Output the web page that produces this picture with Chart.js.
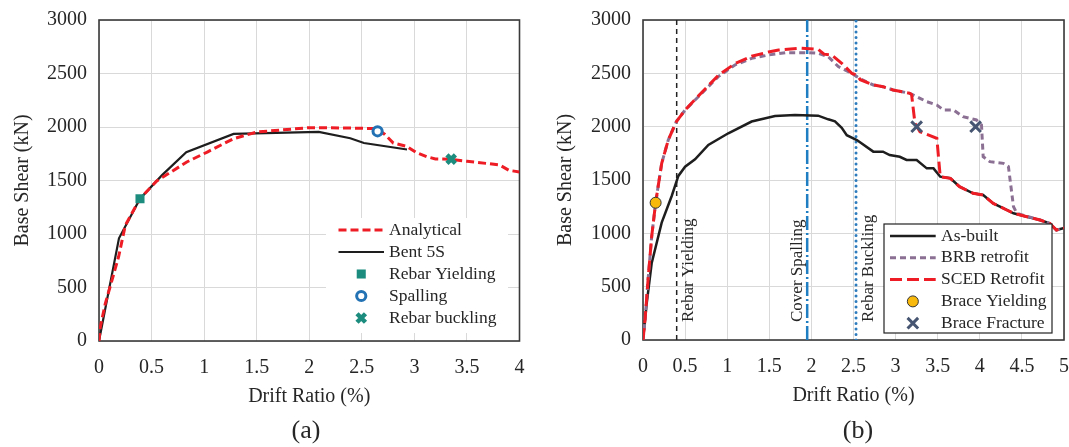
<!DOCTYPE html>
<html>
<head>
<meta charset="utf-8">
<title>Pushover curves</title>
<script src="https://cdn.jsdelivr.net/npm/chart.js@4.4.0/dist/chart.umd.min.js"></script>
<style>
  body { margin: 0; background: #fff; }
  #wrap { position: relative; width: 1069px; height: 447px; overflow: hidden; }
  canvas { position: absolute; top: 0; }
  #chartA { left: 0; }
  #chartB { left: 530px; }
</style>
</head>
<body>
<div id="wrap">
  <canvas id="chartA" width="530" height="447"></canvas>
  <canvas id="chartB" width="539" height="447"></canvas>
</div>
<script>
// Axis ticks
const yTicks = [0, 500, 1000, 1500, 2000, 2500, 3000];
const xTicksA = [0, 0.5, 1, 1.5, 2, 2.5, 3, 3.5, 4];
const xTicksB = [0, 0.5, 1, 1.5, 2, 2.5, 3, 3.5, 4, 4.5, 5];

// (a) Bent 5S test vs analytical model
const driftBent = [0, 0.19, 0.39, 0.6, 0.83, 1.28, 2.09, 2.39, 2.52, 2.93];
const shearBent = [0, 960, 1330, 1550, 1765, 1935, 1955, 1895, 1850, 1790];

const driftAnalytical = [0, 0.012, 0.06, 0.123, 0.186, 0.25, 0.39, 0.55, 0.835, 1.03, 1.28, 1.5, 2.0, 2.4,
  2.64, 2.72, 2.8, 2.93, 3.02, 3.12, 3.2, 3.34, 3.5, 3.68, 3.81, 3.9, 4.0];
const shearAnalytical = [0, 130, 350, 567, 785, 1080, 1331, 1496, 1673, 1766, 1891, 1953, 1994, 1990,
  1985, 1930, 1850, 1818, 1760, 1722, 1702, 1698, 1680, 1660, 1645, 1595, 1580];

const rebarYieldA = { drift: [0.39], shear: [1330] };
const spallingA = { drift: [2.65], shear: [1960] };
const rebarBucklingA = { drift: [3.35], shear: [1700] };

// (b) as-built vs retrofitted bent
const driftAsBuilt = [0, 0.044, 0.103, 0.222, 0.341, 0.42, 0.5, 0.618, 0.776, 1.013, 1.29, 1.568, 1.805,
  2.08, 2.2, 2.28, 2.36, 2.42, 2.54, 2.735, 2.85, 2.93, 3.05, 3.13, 3.25, 3.37, 3.45, 3.53, 3.65, 3.76,
  3.92, 4.04, 4.16, 4.32, 4.4, 4.56, 4.715, 4.83, 4.91, 4.99];
const shearAsBuilt = [0, 344, 719, 1100, 1350, 1538, 1625, 1694, 1828, 1938, 2048, 2100, 2109,
  2103, 2069, 2050, 1990, 1920, 1875, 1766, 1766, 1734, 1718, 1688, 1688, 1609, 1609, 1531, 1516, 1437,
  1375, 1359, 1281, 1219, 1188, 1156, 1125, 1094, 1031, 1047];

const driftBRB = [0, 0.024, 0.063, 0.103, 0.15, 0.222, 0.3, 0.396, 0.5, 0.697, 0.894, 1.09, 1.29, 1.49,
  1.69, 1.96, 2.08, 2.2, 2.32, 2.48, 2.6, 2.735, 2.85, 2.97, 3.17, 3.29, 3.37, 3.49, 3.57, 3.69, 3.8,
  3.96, 4.02, 4.04, 4.12, 4.28, 4.34, 4.4, 4.44, 4.56, 4.715, 4.83, 4.91, 5.0];
const shearBRB = [0, 187, 594, 969, 1287, 1656, 1875, 2047, 2156, 2312, 2469, 2578, 2640, 2672,
  2694, 2694, 2688, 2656, 2563, 2500, 2440, 2391, 2375, 2344, 2312, 2266, 2234, 2203, 2156, 2156, 2094,
  2063, 2016, 1719, 1672, 1656, 1625, 1250, 1188, 1160, 1125, 1094, 1031, 1050];

const driftSCED = [0, 0.024, 0.063, 0.103, 0.15, 0.222, 0.3, 0.396, 0.5, 0.697, 0.894, 1.09, 1.29, 1.49,
  1.61, 1.88, 2.08, 2.15, 2.24, 2.36, 2.48, 2.54, 2.58, 2.735, 2.85, 2.97, 3.17, 3.19, 3.23, 3.29, 3.49,
  3.53, 3.65, 3.76, 3.92, 4.04, 4.16, 4.32, 4.4, 4.56, 4.715, 4.83, 4.91, 5.0];
const shearSCED = [0, 187, 594, 969, 1287, 1656, 1875, 2047, 2156, 2320, 2480, 2590, 2660, 2700,
  2719, 2735, 2725, 2680, 2672, 2594, 2500, 2484, 2440, 2391, 2375, 2344, 2312, 2300, 2031, 1953, 1891,
  1531, 1516, 1437, 1375, 1359, 1281, 1219, 1188, 1156, 1125, 1094, 1031, 1050];

const braceYield = { drift: [0.15], shear: [1287] };
const braceFracture = { drift: [3.25, 3.95], shear: [2000, 2000] };

// Damage limit states (vertical lines)
const limitDrifts = [0.4, 1.95, 2.53];
const limitLabels = ['Rebar Yielding', 'Cover Spalling', 'Rebar Buckling'];

const FONT = "'Liberation Serif', 'Times New Roman', serif";
const TEXT = '#262626';
const GRID = '#d9d9d9';
const RED = '#ee1d25';

Chart.defaults.font.family = FONT;
Chart.defaults.color = TEXT;

// zip two arrays into {x, y} points
function pairs(xs, ys) {
  return xs.map((x, i) => ({ x, y: ys[i] }));
}

function curve(label, xs, ys, color, width, dash, order) {
  return {
    label, data: pairs(xs, ys), showLine: true, pointRadius: 0,
    borderColor: color, borderWidth: width, borderDash: dash, order
  };
}

function marker(label, pts, style, radius, fill, stroke, bw) {
  return {
    label, data: pairs(pts.drift, pts.shear), showLine: false,
    pointStyle: style, pointRadius: radius, pointBackgroundColor: fill,
    pointBorderColor: stroke, pointBorderWidth: bw, order: 0
  };
}

// fixed axis sizes so the plot area lands where we want it
function scales(xTicks, yWidth) {
  return {
    x: {
      type: 'linear', min: xTicks[0], max: xTicks[xTicks.length - 1],
      ticks: { stepSize: xTicks[1] - xTicks[0], padding: 15, font: { size: 20 }, maxRotation: 0,
        autoSkip: false, callback: v => String(v) },
      grid: { color: GRID, drawTicks: false },
      border: { display: false },
      title: { display: true, text: 'Drift Ratio (%)', font: { size: 20 }, padding: 0 },
      afterFit: s => { s.height = 68; s.paddingLeft = 0; s.paddingRight = 0; }
    },
    y: {
      min: yTicks[0], max: yTicks[yTicks.length - 1],
      ticks: { stepSize: yTicks[1] - yTicks[0], padding: 12, font: { size: 20 }, callback: v => String(v) },
      grid: { color: GRID, drawTicks: false },
      border: { display: false },
      title: { display: true, text: 'Base Shear (kN)', font: { size: 20 }, padding: 0 },
      afterFit: s => { s.width = yWidth; s.paddingTop = 0; s.paddingBottom = 0; }
    }
  };
}

// box around the plot area
const frame = {
  id: 'frame',
  beforeDatasetsDraw(chart) {
    const { ctx, chartArea: a } = chart;
    ctx.save();
    ctx.strokeStyle = '#3a3a3a';
    ctx.lineWidth = 1.6;
    ctx.strokeRect(a.left, a.top, a.right - a.left, a.bottom - a.top);
    ctx.restore();
  }
};

// legend drawn inside the plot
const boxLegend = {
  id: 'boxLegend',
  afterDatasetsDraw(chart, args, o) {
    const ctx = chart.ctx;
    ctx.save();
    ctx.fillStyle = '#fff';
    ctx.fillRect(o.box[0], o.box[1], o.box[2], o.box[3]);
    if (o.border) {
      ctx.strokeStyle = '#222';
      ctx.lineWidth = 1.2;
      ctx.strokeRect(o.box[0], o.box[1], o.box[2], o.box[3]);
    }
    ctx.font = '17.5px ' + FONT;
    ctx.textBaseline = 'middle';
    o.items.forEach((idx, i) => {
      const ds = chart.data.datasets[idx];
      const y = o.y + i * o.rowH;
      if (ds.showLine) {
        ctx.save();
        ctx.strokeStyle = ds.borderColor;
        ctx.lineWidth = ds.borderWidth;
        ctx.setLineDash(ds.borderDash || []);
        ctx.beginPath();
        ctx.moveTo(o.lineX[0], y);
        ctx.lineTo(o.lineX[1], y);
        ctx.stroke();
        ctx.restore();
      } else {
        ctx.save();
        ctx.fillStyle = ds.pointBackgroundColor;
        ctx.strokeStyle = ds.pointBorderColor;
        ctx.lineWidth = ds.pointBorderWidth;
        Chart.helpers.drawPoint(ctx, { pointStyle: ds.pointStyle, radius: ds.pointRadius,
          borderWidth: ds.pointBorderWidth, rotation: 0 }, (o.lineX[0] + o.lineX[1]) / 2, y);
        ctx.restore();
      }
      ctx.fillStyle = TEXT;
      ctx.fillText(ds.label, o.textX, y);
    });
    ctx.restore();
  }
};

// rotated names beside the limit-state lines
const limitText = {
  id: 'limitText',
  afterDatasetsDraw(chart, args, o) {
    if (!o.show) return;
    const { ctx, scales: { x, y } } = chart;
    ctx.save();
    ctx.font = '17px ' + FONT;
    ctx.fillStyle = TEXT;
    ctx.textAlign = 'left';
    ctx.textBaseline = 'middle';
    limitDrifts.forEach((d, i) => {
      ctx.save();
      ctx.translate(x.getPixelForValue(d) + o.offsets[i], y.getPixelForValue(0) - 18);
      ctx.rotate(-Math.PI / 2);
      ctx.fillText(limitLabels[i], 0, 0);
      ctx.restore();
    });
    ctx.restore();
  }
};

// (a) / (b) under each panel
const caption = {
  id: 'caption',
  afterDraw(chart, args, o) {
    const ctx = chart.ctx;
    ctx.save();
    ctx.font = '26px ' + FONT;
    ctx.fillStyle = TEXT;
    ctx.textAlign = 'center';
    ctx.textBaseline = 'middle';
    ctx.fillText(o.text, o.x, o.y);
    ctx.restore();
  }
};

const common = { responsive: false, animation: false, events: [] };

// Chart (a)
new Chart(document.getElementById('chartA'), {
  type: 'scatter',
  data: {
    datasets: [
      curve('Analytical', driftAnalytical, shearAnalytical, RED, 3, [8, 4], 1),
      curve('Bent 5S', driftBent, shearBent, '#1e1e1e', 2.2, [], 2),
      marker('Rebar Yielding', rebarYieldA, 'rect', 6.4, '#1c8c7f', '#1c8c7f', 0),
      marker('Spalling', spallingA, 'circle', 4.6, '#fff', '#2272b4', 3),
      marker('Rebar buckling', rebarBucklingA, 'crossRot', 6, '#1c8c7f', '#1c8c7f', 4.5)
    ]
  },
  options: {
    ...common,
    layout: { autoPadding: false, padding: { left: 11, right: 10.5, top: 20, bottom: 38 } },
    scales: scales(xTicksA, 88),
    plugins: {
      legend: { display: false },
      tooltip: { enabled: false },
      boxLegend: { box: [326, 218, 182, 115], border: false, items: [0, 1, 2, 3, 4],
        y: 230, rowH: 22, lineX: [338.5, 384], textX: 389 },
      limitText: { show: false },
      caption: { text: '(a)', x: 306, y: 431 }
    }
  },
  plugins: [frame, boxLegend, limitText, caption]
});

// vertical limit lines span the full y range
const yTop = yTicks[yTicks.length - 1];
function limitLine(i, color, width, dash, cap) {
  return {
    label: limitLabels[i], data: pairs([limitDrifts[i], limitDrifts[i]], [0, yTop]),
    showLine: true, pointRadius: 0, borderColor: color, borderWidth: width,
    borderDash: dash, borderCapStyle: cap, order: 5
  };
}

// Chart (b)
new Chart(document.getElementById('chartB'), {
  type: 'scatter',
  data: {
    datasets: [
      curve('As-built', driftAsBuilt, shearAsBuilt, '#1e1e1e', 2.5, [], 3),
      curve('BRB retrofit', driftBRB, shearBRB, '#8c7094', 3, [6, 4], 2),
      curve('SCED Retrofit', driftSCED, shearSCED, RED, 3, [12, 5], 1),
      marker('Brace Yielding', braceYield, 'circle', 5.5, '#f9b90c', '#333', 1),
      marker('Brace Fracture', braceFracture, 'crossRot', 7.5, '#465571', '#465571', 3),
      limitLine(0, '#222', 1.5, [5, 4], 'butt'),
      limitLine(1, '#1f7dc2', 2.5, [14, 3, 2, 3], 'butt'),
      limitLine(2, '#2c7bbd', 3, [0, 5.5], 'round')
    ]
  },
  options: {
    ...common,
    layout: { autoPadding: false, padding: { left: 24, right: 5, top: 20, bottom: 39 } },
    scales: scales(xTicksB, 89),
    plugins: {
      legend: { display: false },
      tooltip: { enabled: false },
      boxLegend: { box: [354, 224, 168, 109], border: true, items: [0, 1, 2, 3, 4],
        y: 236, rowH: 21.8, lineX: [360, 405.7], textX: 411 },
      limitText: { show: true, offsets: [12, -10, 13] },
      caption: { text: '(b)', x: 328, y: 431 }
    }
  },
  plugins: [frame, boxLegend, limitText, caption]
});
</script>
</body>
</html>
